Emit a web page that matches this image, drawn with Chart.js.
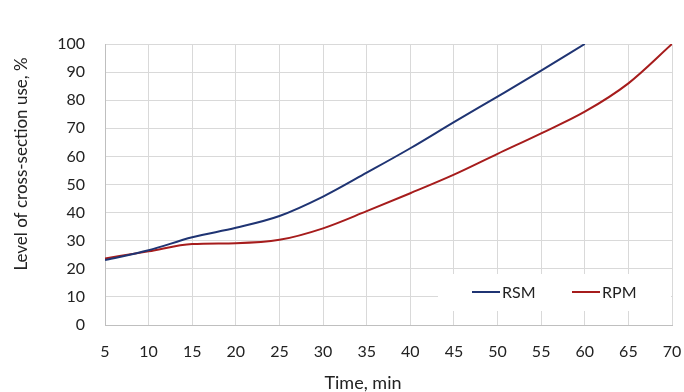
<!DOCTYPE html>
<html><head><meta charset="utf-8">
<script src="https://cdn.jsdelivr.net/npm/chart.js@4/dist/chart.umd.min.js"></script>
<style>html,body{margin:0;padding:0;background:#fff}#wrap{width:684px;height:392px}</style>
</head><body><div id="wrap"><canvas id="c" width="684" height="392"></canvas></div>
<script>
const timeMin = [5, 10, 15, 20, 25, 30, 35, 40, 45, 50, 55, 60, 65, 70];
const rsm = [23.1, 26.6, 31.2, 34.6, 38.8, 45.7, 54.2, 62.9, 72.2, 81.3, 90.5, 100];
const rpm = [23.7, 26.2, 28.8, 29.1, 30.3, 34.4, 40.5, 46.9, 53.5, 60.9, 68.2, 75.9, 86.0, 100];
const xTicks = [5, 10, 15, 20, 25, 30, 35, 40, 45, 50, 55, 60, 65, 70];
const yTicks = [0, 10, 20, 30, 40, 50, 60, 70, 80, 90, 100];
const seriesNames = ['RSM', 'RPM'];
const xTitle = 'Time, min';
const yTitle = 'Level of cross-section use, %';
const colors = ['#1F3473', '#A61C1C'];
const FONT = 'Lato, "Open Sans", sans-serif';

const toPts = (vals) => vals.map((v, i) => ({x: timeMin[i], y: v}));

const decorPlugin = {
  id: 'decor',
  afterDraw(chart) {
    const {ctx} = chart;
    const ca = chart.chartArea;
    ctx.save();
    // legend box inside plot
    ctx.fillStyle = '#fff';
    ctx.fillRect(438, 274, ca.right - 1 - 438, 37);
    ctx.font = '16px ' + FONT;
    ctx.textBaseline = 'middle';
    ctx.textAlign = 'left';
    const starts = [472, 572];
    chart.data.datasets.forEach((ds, i) => {
      const x0 = starts[i], y0 = 292;
      ctx.strokeStyle = ds.borderColor;
      ctx.lineWidth = 2;
      ctx.beginPath(); ctx.moveTo(x0, y0); ctx.lineTo(x0 + 28, y0); ctx.stroke();
      ctx.fillStyle = '#222';
      ctx.fillText(ds.label, x0 + 30, y0 + 1);
    });
    // axis titles
    ctx.fillStyle = '#222';
    ctx.textAlign = 'center';
    ctx.font = '18px ' + FONT;
    ctx.fillText(xTitle, 363, 383);
    ctx.translate(22, 164);
    ctx.rotate(-Math.PI / 2);
    ctx.font = '17px ' + FONT;
    ctx.fillText(yTitle, 0, 0);
    ctx.restore();
  }
};

new Chart(document.getElementById('c'), {
  type: 'line',
  data: {
    datasets: [
      {label: seriesNames[0], data: toPts(rsm), borderColor: colors[0], borderWidth: 2, pointRadius: 0, cubicInterpolationMode: 'monotone', fill: false},
      {label: seriesNames[1], data: toPts(rpm), borderColor: colors[1], borderWidth: 2, pointRadius: 0, cubicInterpolationMode: 'monotone', fill: false}
    ]
  },
  options: {
    responsive: false, animation: false,
    layout: {padding: {left: 0, top: 44, right: 12, bottom: 0}},
    plugins: {legend: {display: false}, tooltip: {enabled: false}},
    scales: {
      x: {
        type: 'linear', min: 5, max: 70,
        afterBuildTicks: (s) => { s.ticks = xTicks.map(v => ({value: v})); },
        afterFit: (s) => { s.height = 67; s.paddingLeft = 0; s.paddingRight = 0; },
        grid: {color: '#d9d9d9', lineWidth: 1, drawTicks: false},
        border: {color: '#bfbfbf'},
        ticks: {color: '#222', font: {family: FONT, size: 16}, padding: 17, maxRotation: 0, autoSkip: false},
        title: {display: false}
      },
      y: {
        min: 0, max: 100,
        afterBuildTicks: (s) => { s.ticks = yTicks.map(v => ({value: v})); },
        afterFit: (s) => { s.width = 105; s.paddingTop = 0; s.paddingBottom = 0; },
        grid: {color: '#d9d9d9', lineWidth: 1, drawTicks: false},
        border: {color: '#bfbfbf'},
        ticks: {color: '#222', font: {family: FONT, size: 16}, padding: 20},
        title: {display: false}
      }
    }
  },
  plugins: [decorPlugin]
});
</script></body></html>
